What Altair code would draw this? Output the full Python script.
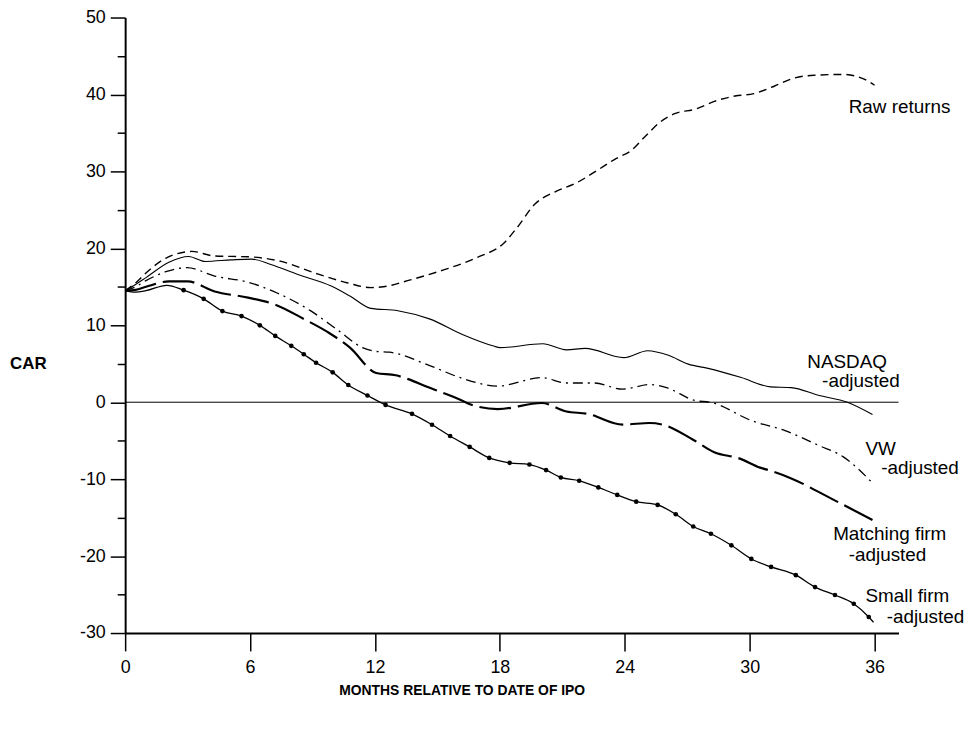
import altair as alt
import pandas as pd

# ---- data (months relative to IPO, CAR in %) ----
raw_m = [0, 0.5, 1, 1.94, 2.5, 3.2, 4.3, 5.9, 7.5, 9.1, 10.7, 11.8, 12.4, 13.7, 15.3,
         16.9, 18.2, 18.8, 19.7, 20.7, 21.6, 22.6, 23.6, 24.3, 25.0, 25.7, 26.4, 27.4,
         28.3, 29.3, 30.2, 31.2, 32.1, 33.1, 34.5, 35.5, 36.0]
raw_v = [14.5, 15.5, 16.8, 18.7, 19.3, 19.6, 19.0, 18.9, 18.3, 16.8, 15.5, 14.9, 15.0,
         15.9, 17.2, 18.8, 20.7, 22.6, 25.8, 27.4, 28.4, 30.0, 31.7, 32.7, 34.6, 36.4,
         37.5, 38.1, 39.1, 39.8, 40.1, 41.1, 42.1, 42.5, 42.6, 42.0, 41.2]

nasdaq_m = [0, 0.5, 1, 2.1, 3.05, 3.85, 5.1, 6.07, 7.0, 8.3, 9.9, 10.8, 11.8, 13.1,
            14.65, 16.2, 17.7, 18.0, 20.06, 21.2, 22.1, 23.95, 25.1, 26.1, 27.05, 28.0,
            29.6, 31.0, 32.0, 33.3, 34.7, 35.9]
nasdaq_v = [14.5, 15.3, 16.2, 18.2, 18.95, 18.3, 18.5, 18.6, 17.9, 16.6, 15.1, 13.8,
            12.2, 11.9, 10.8, 8.8, 7.3, 7.1, 7.6, 6.8, 7.0, 5.8, 6.7, 6.1, 4.95, 4.4,
            3.2, 2.0, 1.9, 0.9, 0.0, -1.6]

vw_m = [0, 0.5, 1, 2.0, 2.97, 4.3, 5.9, 7.3, 8.9, 10.2, 11.4, 12.06, 12.7, 14.6, 16.2,
        17.9, 20.0, 21.2, 22.5, 23.9, 25.2, 26.0, 27.4, 28.1, 30.1, 31.7, 33.3, 34.5, 35.9]
vw_v = [14.5, 15.0, 15.8, 17.0, 17.5, 16.4, 15.6, 14.2, 11.9, 9.4, 7.1, 6.6, 6.5, 4.8,
        3.1, 2.1, 3.2, 2.5, 2.5, 1.7, 2.3, 1.9, 0.2, 0.0, -2.4, -3.7, -5.6, -7.1, -10.5]

match_m = [0, 0.5, 1, 2.1, 3.0, 4.3, 5.9, 7.2, 8.6, 9.8, 10.8, 12.06, 13.0, 13.6, 14.6,
           15.2, 16.2, 16.5, 17.9, 20.0, 21.2, 22.2, 23.9, 25.2, 25.8, 27.3, 28.3, 29.5,
           30.5, 31.0, 32.0, 33.9, 35.9]
match_v = [14.5, 14.6, 15.0, 15.7, 15.7, 14.4, 13.6, 12.7, 10.8, 9.0, 7.1, 3.8, 3.5, 3.0,
           1.9, 1.3, 0.2, -0.2, -0.9, -0.1, -1.2, -1.5, -2.9, -2.7, -2.9, -4.9, -6.5,
           -7.3, -8.5, -8.9, -9.9, -12.5, -15.3]

small_m = [0, 0.5, 1, 2.0, 2.81, 3.77, 4.67, 5.59, 6.47, 7.21, 7.98, 8.58, 9.17, 9.97,
           10.72, 11.64, 12.51, 13.78, 14.74, 15.61, 16.55, 17.49, 18.47, 19.42, 20.22,
           20.93, 21.81, 22.73, 23.64, 24.55, 25.58, 26.45, 27.29, 28.14, 29.12, 30.08,
           31.03, 32.22, 33.14, 34.10, 35.00, 35.72, 35.95]
small_v = [14.5, 14.3, 14.5, 15.2, 14.56, 13.44, 11.85, 11.20, 9.99, 8.62, 7.33, 6.24,
           5.13, 3.88, 2.24, 0.87, -0.35, -1.51, -2.93, -4.39, -5.81, -7.24, -7.88, -8.10,
           -8.82, -9.78, -10.21, -11.07, -12.05, -12.92, -13.35, -14.56, -16.15, -17.09,
           -18.60, -20.37, -21.41, -22.48, -24.03, -25.06, -26.19, -27.91, -28.6]
small_dot = [False] * 4 + [True] * 38 + [False]

label_text = ["Raw returns", "NASDAQ", "-adjusted", "VW", "-adjusted",
              "Matching firm", "-adjusted", "Small firm", "-adjusted"]
label_m = [34.76, 32.77, 33.48, 35.56, 36.32, 34.01, 34.76, 35.56, 36.58]
label_v = [38.37, 5.23, 2.71, -6.03, -8.53, -17.18, -19.90, -25.13, -27.91]

zero_v = [0]
x_ticks = [0, 6, 12, 18, 24, 30, 36]
y_ticks = [-30, -25, -20, -15, -10, -5, 0, 5, 10, 15, 20, 25, 30, 35, 40, 45, 50]

# ---- tables ----
def mk(name, ms, vs):
    return pd.DataFrame({"series": name, "month": ms, "car": vs})

df = pd.concat([
    mk("raw", raw_m, raw_v),
    mk("nasdaq", nasdaq_m, nasdaq_v),
    mk("vw", vw_m, vw_v),
    mk("match", match_m, match_v),
], ignore_index=True)
df_small = pd.DataFrame({"month": small_m, "car": small_v, "dot": small_dot})
df_lab = pd.DataFrame({"month": label_m, "car": label_v, "text": label_text})
df_zero = pd.DataFrame({"car": zero_v})

FONT = "Liberation Sans"
xs = alt.Scale(domain=[0, 37.15], nice=False, zero=False)
ys = alt.Scale(domain=[-30, 50], nice=False, zero=False)

X = alt.X("month:Q", scale=xs, axis=alt.Axis(
    values=x_ticks, grid=False, tickSize=18, tickWidth=1.5, tickColor="black",
    domainColor="black", domainWidth=2, labelFont=FONT, labelFontSize=18,
    labelColor="black", labelPadding=8, labelFlush=False,
    title="MONTHS RELATIVE TO DATE OF IPO", titleFont=FONT, titleFontSize=14,
    titleFontWeight="bold", titleColor="black", titleX=339, titleY=62,
    titleAlign="center", titleBaseline="alphabetic"))
Y = alt.Y("car:Q", scale=ys, axis=alt.Axis(
    values=y_ticks, grid=False,
    tickSize={"condition": {"test": "datum.value % 10 === 0", "value": 15}, "value": 8},
    tickWidth=1.5, tickColor="black", domainColor="black", domainWidth=2,
    labelExpr="datum.value % 10 === 0 ? ('' + datum.value) : ''",
    labelFont=FONT, labelFontSize=18, labelColor="black", labelPadding=5,
    labelFlush=False,
    title="CAR", titleFont=FONT, titleFontSize=17, titleFontWeight="bold",
    titleColor="black", titleAngle=0, titleX=-98, titleY=349,
    titleAlign="center", titleBaseline="middle"))

base = alt.Chart(df)

def series_line(name, **kw):
    return base.transform_filter(alt.datum.series == name).mark_line(
        color="black", interpolate="monotone", **kw).encode(x=X, y=Y, order="month:Q")

raw = series_line("raw", strokeWidth=1.4, strokeDash=[8, 5])
nas = series_line("nasdaq", strokeWidth=1.1)
vw = series_line("vw", strokeWidth=1.3, strokeDash=[10, 5, 2, 5])
mat = series_line("match", strokeWidth=2.2, strokeDash=[32, 7])

small_line = alt.Chart(df_small).mark_line(
    color="black", strokeWidth=1.3, interpolate="monotone").encode(x=X, y=Y, order="month:Q")
small_pts = alt.Chart(df_small).transform_filter(alt.datum.dot == True).mark_circle(
    color="black", size=22, opacity=1).encode(x=X, y=Y)

zero = alt.Chart(df_zero).mark_rule(color="black", strokeWidth=1).encode(y=Y)

labels = alt.Chart(df_lab).mark_text(
    align="left", baseline="middle", font=FONT, fontSize=19, color="black").encode(
    x=X, y=Y, text="text:N")

chart = alt.layer(raw, nas, vw, mat, small_line, small_pts, zero, labels).properties(
    width=779, height=620,
    autosize=alt.AutoSizeParams(type="none"),
    padding={"left": 118, "top": 7, "right": 70, "bottom": 85},
    background="white",
).configure_view(stroke=None)

chart.save("out.html", embed_options={"renderer": "svg", "actions": False})
